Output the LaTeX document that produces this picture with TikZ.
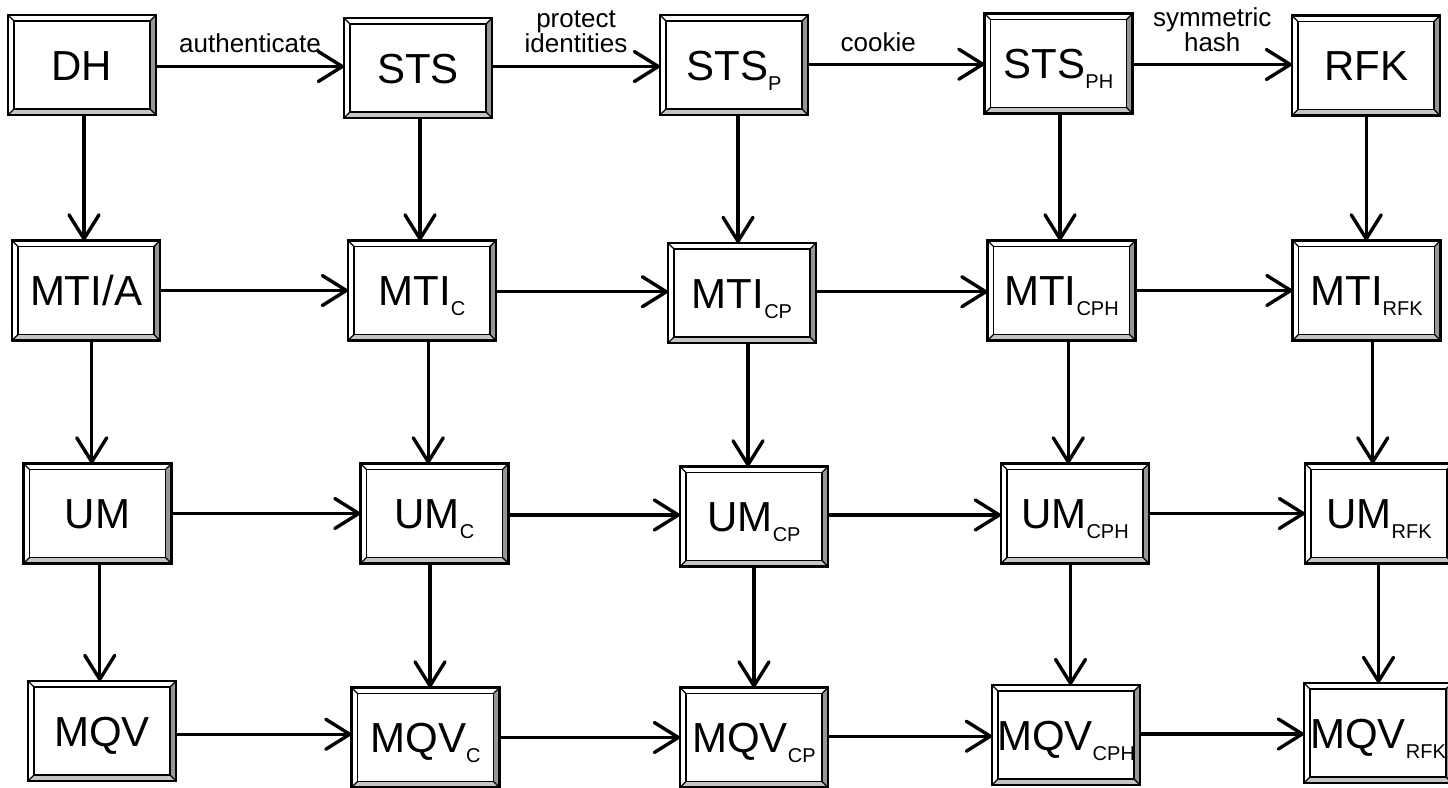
\documentclass[tikz,border=0pt]{standalone}
\usepackage{fontspec}
\setmainfont{Liberation Sans}
\usetikzlibrary{arrows.meta,calc}
\definecolor{bevdark}{HTML}{969696}
\definecolor{bevlight}{HTML}{C4C4C4}
\tikzset{
  bx/.style={fill=white, minimum width=148pt, minimum height=100pt, inner sep=0pt, outer sep=0pt,
    text height=30pt, text depth=0pt, font=\fontsize{42}{42}\selectfont},
  conn/.style={line width=3.4pt, -{Straight Barb[length=24pt,width=30pt,round]}},
  lbl/.style={font=\fontsize{26}{25}\selectfont, align=center, inner sep=0pt, anchor=south},
}
\newcommand\lsub[1]{\raisebox{-10pt}{\fontsize{20}{20}\selectfont #1}}
\newcommand\bevbox[4]{%
  \node[bx] (#1) at (#2,#3) {#4};
  \fill[bevdark] (#1.north east) -- (#1.south east) -- ($(#1.south east)+(-6pt,6pt)$) -- ($(#1.north east)+(-6pt,-6pt)$) -- cycle;
  \fill[bevlight] (#1.south west) -- (#1.south east) -- ($(#1.south east)+(-6pt,6pt)$) -- ($(#1.south west)+(6pt,6pt)$) -- cycle;
  \draw[line width=1.5pt] ($(#1.north west)+(6pt,-6pt)$) rectangle ($(#1.south east)+(-6pt,6pt)$);
  \draw[line width=1.2pt] (#1.north west) -- ++(6pt,-6pt) (#1.north east) -- ++(-6pt,-6pt)
    (#1.south east) -- ++(-6pt,6pt) (#1.south west) -- ++(6pt,6pt);
  \draw[line width=2.4pt] (#1.north west) rectangle (#1.south east);
}
\newcommand\hconn[2]{%
  \coordinate (m-#1-#2) at ($(#1.east)!0.5!(#2.west)$);
  \draw[conn] (m-#1-#2 -| #1.east) -- (m-#1-#2 -| #2.west);
}
\newcommand\vconn[2]{%
  \coordinate (m-#1-#2) at ($(#1.south)!0.5!(#2.north)$);
  \draw[conn] (m-#1-#2 |- #1.south) -- (m-#1-#2 |- #2.north);
}
\begin{document}
\begin{tikzpicture}[x=1pt,y=-1pt]
\useasboundingbox (0,0) rectangle (1448,787);
% row 1
\bevbox{DH}{82}{65}{DH}
\bevbox{STS}{418}{68}{STS}
\bevbox{STSP}{734}{65}{STS\lsub{P}}
\bevbox{STSPH}{1058.5}{63.5}{STS\lsub{PH}}
\bevbox{RFK}{1366}{65.5}{RFK}
% row 2
\bevbox{MTIA}{86}{290.5}{MTI/A}
\bevbox{MTIC}{422}{290.5}{MTI\lsub{C}}
\bevbox{MTICP}{742}{293}{MTI\lsub{CP}}
\bevbox{MTICPH}{1061.5}{290.5}{MTI\lsub{CPH}}
\bevbox{MTIRFK}{1366.5}{290.5}{MTI\lsub{RFK}}
% row 3
\bevbox{UM}{97.5}{513.5}{UM}
\bevbox{UMC}{434.5}{513.5}{UM\lsub{C}}
\bevbox{UMCP}{754}{516.5}{UM\lsub{CP}}
\bevbox{UMCPH}{1075}{513.5}{UM\lsub{CPH}}
\bevbox{UMRFK}{1379}{513.5}{UM\lsub{RFK}}
% row 4
\bevbox{MQV}{102}{731}{MQV}
\bevbox{MQVC}{425.5}{737.5}{MQV\lsub{C}}
\bevbox{MQVCP}{754}{737.5}{MQV\lsub{CP}}
\bevbox{MQVCPH}{1066}{735}{MQV\lsub{CPH}}
\bevbox{MQVRFK}{1378}{733}{MQV\lsub{RFK}}
% horizontal connectors
\hconn{DH}{STS}\hconn{STS}{STSP}\hconn{STSP}{STSPH}\hconn{STSPH}{RFK}
\hconn{MTIA}{MTIC}\hconn{MTIC}{MTICP}\hconn{MTICP}{MTICPH}\hconn{MTICPH}{MTIRFK}
\hconn{UM}{UMC}\hconn{UMC}{UMCP}\hconn{UMCP}{UMCPH}\hconn{UMCPH}{UMRFK}
\hconn{MQV}{MQVC}\hconn{MQVC}{MQVCP}\hconn{MQVCP}{MQVCPH}\hconn{MQVCPH}{MQVRFK}
% vertical connectors
\vconn{DH}{MTIA}\vconn{MTIA}{UM}\vconn{UM}{MQV}
\vconn{STS}{MTIC}\vconn{MTIC}{UMC}\vconn{UMC}{MQVC}
\vconn{STSP}{MTICP}\vconn{MTICP}{UMCP}\vconn{UMCP}{MQVCP}
\vconn{STSPH}{MTICPH}\vconn{MTICPH}{UMCPH}\vconn{UMCPH}{MQVCPH}
\vconn{RFK}{MTIRFK}\vconn{MTIRFK}{UMRFK}\vconn{UMRFK}{MQVRFK}
% labels
\node[lbl] (l1) at ($(m-DH-STS)+(0pt,14pt)$) {authenticate};
\node[lbl] (l2) at ($(m-STS-STSP)+(0pt,14pt)$) {protect\\identities};
\node[lbl] (l3) at ($(m-STSP-STSPH)+(-18pt,12pt)$) {cookie};
\node[lbl] (l4) at ($(m-STSPH-RFK)+(0pt,12.5pt)$) {symmetric\\hash};
\end{tikzpicture}
\end{document}
